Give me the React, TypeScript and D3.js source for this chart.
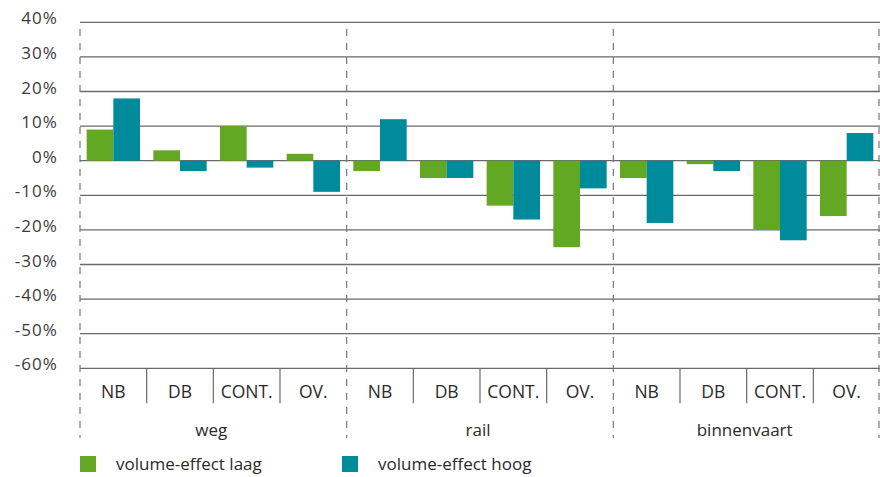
import React from "react";
import * as d3 from "d3";

const groups = ["weg", "rail", "binnenvaart"];
const subcats = ["NB", "DB", "CONT.", "OV."];
const seriesNames = ["volume-effect laag", "volume-effect hoog"];
const laag = [9, 3, 10, 2, -3, -5, -13, -25, -5, -1, -20, -16];
const hoog = [18, -3, -2, -9, 12, -5, -17, -8, -18, -3, -23, 8];
const yTicks = [40, 30, 20, 10, 0, -10, -20, -30, -40, -50, -60];
const colors = ["#63a822", "#008b9c"];

const W = 880;
const H = 477;
const FONT = "'Open Sans', sans-serif";

export default function App() {
  const left = 80;
  const right = 880;
  const y = d3.scaleLinear().domain([-60, 40]).range([368.3, 22.3]);
  const keys = groups.flatMap((g) => subcats.map((s) => g + "|" + s));
  const x0 = d3.scaleBand().domain(keys).range([left, right]).padding(0);
  const xg = d3.scaleBand().domain(groups).range([left, right]).padding(0);
  const x1 = d3
    .scaleBand()
    .domain(seriesNames)
    .range([0, x0.bandwidth()])
    .paddingInner(0)
    .paddingOuter(0.25);
  const values = [laag, hoog];
  const axisY = y(-60);

  return (
    <svg
      width={W}
      height={H}
      style={{ position: "absolute", left: 0, top: 0, background: "#fff" }}
    >
      {yTicks.map((t) => (
        <line
          key={"g" + t}
          x1={left}
          x2={right}
          y1={y(t)}
          y2={y(t)}
          stroke="#6a6a6a"
          strokeWidth={1.3}
        />
      ))}
      {yTicks.map((t) => (
        <text
          key={"yl" + t}
          x={58}
          y={y(t) + 2}
          textAnchor="end"
          fontFamily={FONT}
          fontSize={17}
          letterSpacing={1.1}
          fill="#3a3a3a"
        >
          {t + "%"}
        </text>
      ))}
      {keys.map((k, i) =>
        seriesNames.map((s, j) => {
          const v = values[j][i];
          const bx = (x0(k) as number) + (x1(s) as number);
          return (
            <rect
              key={k + s}
              x={bx}
              width={x1.bandwidth()}
              y={y(Math.max(0, v))}
              height={Math.abs(y(v) - y(0))}
              fill={colors[j]}
            />
          );
        })
      )}
      {keys.map((k, i) =>
        i % 4 === 0 ? null : (
          <line
            key={"s" + k}
            x1={x0(k) as number}
            x2={x0(k) as number}
            y1={axisY}
            y2={axisY + 35}
            stroke="#6a6a6a"
            strokeWidth={1.2}
          />
        )
      )}
      {[...groups.map((g) => xg(g) as number), right - 1].map((gx, i) => (
        <line
          key={"d" + i}
          x1={gx}
          x2={gx}
          y1={29}
          y2={438}
          stroke="#777"
          strokeWidth={1.2}
          strokeDasharray="7,7"
        />
      ))}
      {keys.map((k) => (
        <text
          key={"sl" + k}
          x={(x0(k) as number) + x0.bandwidth() / 2}
          y={397.5}
          textAnchor="middle"
          fontFamily={FONT}
          fontSize={17.5}
          fill="#2a2a2a"
        >
          {k.split("|")[1]}
        </text>
      ))}
      {groups.map((g) => (
        <text
          key={"gl" + g}
          x={(xg(g) as number) + xg.bandwidth() / 2 - 2}
          y={436}
          textAnchor="middle"
          fontFamily={FONT}
          fontSize={17}
          fill="#2a2a2a"
        >
          {g}
        </text>
      ))}
      {seriesNames.map((s, j) => {
        const lx = j === 0 ? 80 : 342;
        return (
          <g key={"lg" + s}>
            <rect x={lx} y={456} width={16} height={16} fill={colors[j]} />
            <text
              x={lx + 36}
              y={470}
              fontFamily={FONT}
              fontSize={17}
              fill="#2a2a2a"
            >
              {s}
            </text>
          </g>
        );
      })}
    </svg>
  );
}
